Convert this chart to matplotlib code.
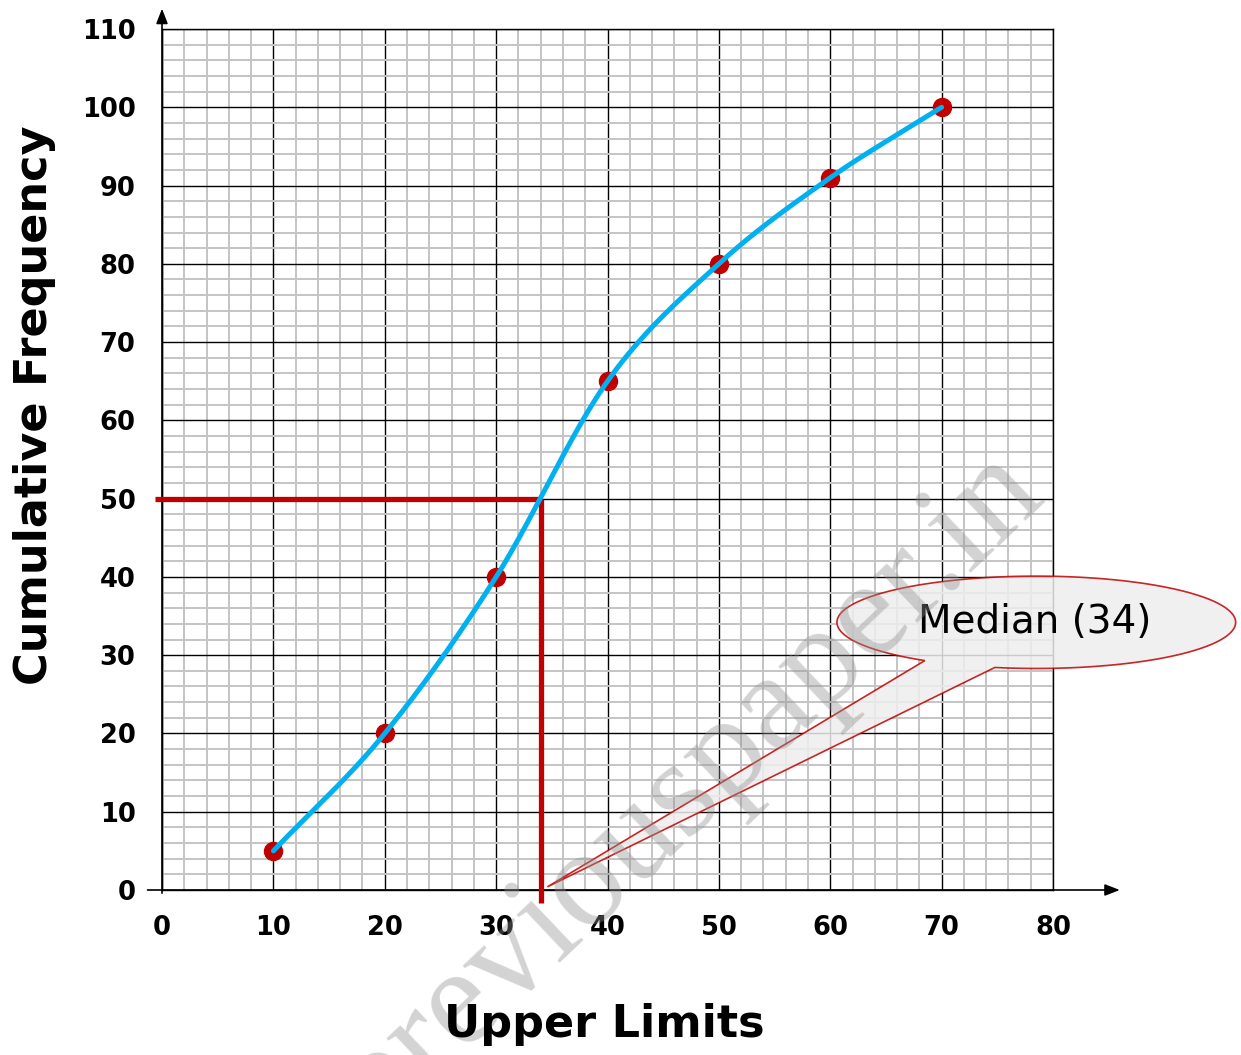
import numpy as np
import matplotlib
matplotlib.use("Agg")
import matplotlib.pyplot as plt
from matplotlib.patches import Polygon

RED   = "#C00000"
BLUE  = "#00B0F0"
MINOR = "#C4C4C4"

upper_limits = [10, 20, 30, 40, 50, 60, 70]
cum_freq     = [5, 20, 40, 65, 80, 91, 100]
median_cf    = 50
median_value = 34
x_ticks = list(range(0, 81, 10))
y_ticks = list(range(0, 111, 10))


def catmull_rom(xs, ys, n=40):
    # smooth curve through the points (uniform Catmull-Rom)
    p = np.column_stack([xs, ys]).astype(float)
    p = np.vstack([2 * p[0] - p[1], p, 2 * p[-1] - p[-2]])
    out = []
    t = np.linspace(0, 1, n)[:, None]
    for i in range(1, len(p) - 2):
        p0, p1, p2, p3 = p[i - 1], p[i], p[i + 1], p[i + 2]
        m1, m2 = (p2 - p0) / 2, (p3 - p1) / 2
        h00 = 2 * t**3 - 3 * t**2 + 1
        h10 = t**3 - 2 * t**2 + t
        h01 = -2 * t**3 + 3 * t**2
        h11 = t**3 - t**2
        out.append(h00 * p1 + h10 * m1 + h01 * p2 + h11 * m2)
    c = np.vstack(out)
    return c[:, 0], c[:, 1]


fig = plt.figure(figsize=(12.41, 10.55), dpi=100)
ax = fig.add_axes([162 / 1241, 1 - 890 / 1055, (1053 - 162) / 1241, (890 - 29) / 1055])
ax.set_xlim(0, 80)
ax.set_ylim(0, 110)

ax.set_xticks(x_ticks)
ax.set_yticks(y_ticks)
ax.set_xticks(np.arange(0, 81, 2), minor=True)
ax.set_yticks(np.arange(0, 111, 2), minor=True)
ax.grid(which="minor", color=MINOR, lw=1.4, zorder=0)
ax.grid(which="major", color="black", lw=1.0, zorder=0.5)
ax.set_axisbelow(True)
ax.tick_params(which="both", length=0)
ax.tick_params(axis="x", pad=18, labelsize=18.5)
ax.tick_params(axis="y", pad=19, labelsize=18.5)
for lab in ax.get_xticklabels() + ax.get_yticklabels():
    lab.set_fontweight("bold")
for s in ax.spines.values():
    s.set_color("black")
    s.set_linewidth(1.0)

# axis lines with arrow heads
arrow = dict(arrowstyle="-|>,head_length=0.9,head_width=0.35",
             color="black", lw=1.2, shrinkA=0, shrinkB=0)
ax.annotate("", xy=(86, 0), xytext=(-1.3, 0), annotation_clip=False, arrowprops=arrow)
ax.annotate("", xy=(0, 112.6), xytext=(0, -0.4), annotation_clip=False, arrowprops=arrow)

# watermark
fig.text(0.556, 0.25, "previouspaper.in", fontsize=100, family="Liberation Serif",
         color="#909090", alpha=0.4, rotation=43.5, ha="center", va="center",
         zorder=1)

# median guide lines
ax.plot([-0.6, median_value], [median_cf, median_cf], color=RED, lw=3.8,
        solid_capstyle="butt", clip_on=False, zorder=3)
ax.plot([median_value, median_value], [median_cf, -1.7], color=RED, lw=3.8,
        solid_capstyle="butt", clip_on=False, zorder=3)

# ogive
ax.plot(upper_limits, cum_freq, "o", color=RED, ms=13, zorder=4)
cx, cy = catmull_rom(upper_limits, cum_freq)
ax.plot(cx, cy, color=BLUE, lw=3.6, solid_capstyle="round", zorder=5)

# callout bubble
ecx, ecy, ea, eb = 78.5, 34.2, 17.9, 5.9
th_a, th_b = np.deg2rad(258), np.deg2rad(236 + 360)
th = np.linspace(th_a, th_b, 200)
pts = np.column_stack([ecx + ea * np.cos(th), ecy + eb * np.sin(th)])
tip = np.array([[median_value + 0.6, 0.4]])
pts = np.vstack([pts, tip])
bubble = Polygon(pts, closed=True, facecolor="#EEEEEE", alpha=0.85,
                 edgecolor=RED, lw=1.2, clip_on=False, zorder=6)
ax.add_patch(bubble)
ax.text(ecx - 0.1, ecy + 0.1, f"Median ({median_value})", fontsize=28,
        ha="center", va="center", color="black", zorder=7, clip_on=False)

fig.text(0.487, 0.029, "Upper Limits", fontsize=32, fontweight="bold",
         ha="center", va="center")
fig.text(0.028, 0.616, "Cumulative Frequency", fontsize=32, fontweight="bold",
         ha="center", va="center", rotation=90)

fig.savefig("out.png", dpi=100, facecolor="white")
